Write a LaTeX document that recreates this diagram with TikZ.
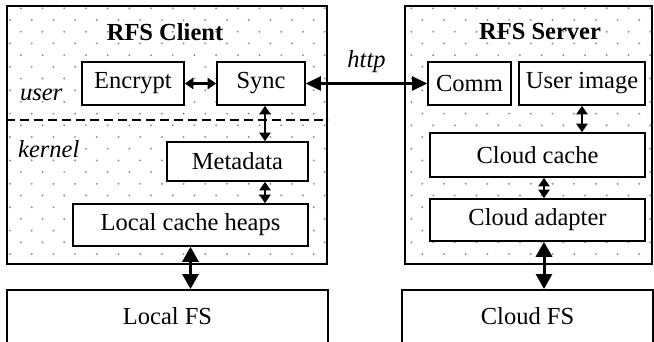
\documentclass[tikz,border=0pt]{standalone}
\usepackage{fontspec}
\setmainfont{Liberation Serif}
\usetikzlibrary{arrows.meta}
\usetikzlibrary{math}

\tikzset{
    textFont/.style={font=\fontsize{24.5}{29}\selectfont},
    innerBox/.style={draw, line width=1.6pt, fill=white, inner sep=0pt, textFont},
    outerBox/.style={draw, line width=2pt, inner sep=0pt},
    fsBox/.style={draw, line width=2pt, fill=white, inner sep=0pt, textFont},
    smallArrow/.style={line width=2.2pt, {Triangle[length=8.5pt,width=11pt]}-{Triangle[length=8.5pt,width=11pt]}},
    httpArrow/.style={line width=2.4pt, {Triangle[length=15pt,width=14pt]}-{Triangle[length=15pt,width=14pt]}},
    bigArrow/.style={line width=3pt, {Triangle[length=15pt,width=16pt]}-{Triangle[length=15pt,width=16pt]}}
}

\begin{document}
\begin{tikzpicture}[x=1pt, y=-1pt]

\useasboundingbox (0,0) rectangle (654,341);
\clip (0,0) rectangle (654,341);

% Grid of the dotted background
\tikzmath{
    \dotStep = 21.7;
    \rowStep = 11.7;
    \firstRow = 8.3;
}

\begin{scope}
    \clip (7,6) rectangle (327,264) (405,6) rectangle (652,264);
    \foreach \row in {0,...,22} {
        \foreach \col in {-1,...,30} {
            \fill[gray!85] ({\col*\dotStep + mod(\row+1,2)*\dotStep/2 + 10}, {\firstRow + \row*\rowStep}) circle (1.1pt);
        }
    }
\end{scope}

% Client and server frames
\node[outerBox, minimum width=320pt, minimum height=258pt] (client) at (167,135) {};
\node[outerBox, minimum width=247pt, minimum height=258pt] (server) at (528.5,135) {};

\node[textFont, font=\fontsize{24.5}{29}\selectfont\bfseries] (clientTitle) at (165,32) {RFS Client};
\node[textFont, font=\fontsize{24.5}{29}\selectfont\bfseries] (serverTitle) at (540,32) {RFS Server};

% user / kernel split
\draw[line width=1.6pt, dash pattern=on 9pt off 5pt] (client.west |- 0,120) -- (client.east |- 0,120);
\node[textFont, font=\fontsize{24.5}{29}\selectfont\itshape, anchor=base west, inner sep=0pt] (userLabel) at (20,100) {user};
\node[textFont, font=\fontsize{24.5}{29}\selectfont\itshape, anchor=base west, inner sep=0pt] (kernelLabel) at (18,157) {kernel};

% Client blocks
\node[innerBox, minimum width=102pt, minimum height=43pt] (encrypt) at (133,83.5) {Encrypt};
\node[innerBox, minimum width=88pt, minimum height=43pt] (sync) at (261,83.5) {Sync};
\node[innerBox, minimum width=141pt, minimum height=39pt] (metadata) at (237.5,161.5) {Metadata};
\node[innerBox, minimum width=235pt, minimum height=42pt] (localCache) at (190.5,225) {Local cache heaps};

% Server blocks
\node[innerBox, minimum width=83pt, minimum height=43pt] (comm) at (469.5,83.5) {Comm};
\node[innerBox, minimum width=126pt, minimum height=43pt] (userImage) at (582,83.5) {User image};
\node[innerBox, minimum width=215pt, minimum height=44pt] (cloudCache) at (537.5,155) {Cloud cache};
\node[innerBox, minimum width=215pt, minimum height=42pt] (cloudAdapter) at (537.5,220) {Cloud adapter};

% File systems below
\node[fsBox, minimum width=321pt, minimum height=55pt] (localFS) at (167.5,317.5) {};
\node[textFont] (localFSText) at (167.5,316) {Local FS};
\node[fsBox, minimum width=251pt, minimum height=55pt] (cloudFS) at (527.5,317.5) {};
\node[textFont] (cloudFSText) at (527.5,316) {Cloud FS};

% Connectors
\draw[smallArrow] (encrypt.east) -- (sync.west);
\draw[smallArrow] ([xshift=4pt]sync.south) -- ([xshift=4pt]sync.south |- metadata.north);
\draw[smallArrow] ([xshift=27.5pt]metadata.south) -- ([xshift=27.5pt]metadata.south |- localCache.north);
\draw[bigArrow] (localCache.south) -- (localCache.south |- localFS.north);

\draw[httpArrow] (sync.east) -- node[above=6pt, textFont, font=\fontsize{24.5}{29}\selectfont\itshape] (httpLabel) {http} (comm.west);

\draw[smallArrow] (userImage.south) -- (userImage.south |- cloudCache.north);
\draw[smallArrow] ([xshift=6.5pt]cloudCache.south) -- ([xshift=6.5pt]cloudCache.south |- cloudAdapter.north);
\draw[bigArrow] ([xshift=6.5pt]cloudAdapter.south) -- ([xshift=6.5pt]cloudAdapter.south |- cloudFS.north);

\end{tikzpicture}
\end{document}
